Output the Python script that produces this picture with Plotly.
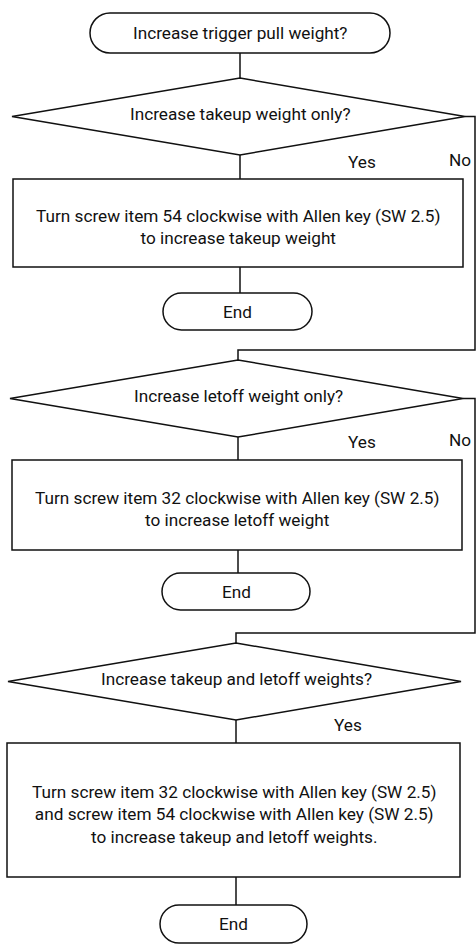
import plotly.graph_objects as go

W, H = 476, 946

# ---- content ----
start_label = "Increase trigger pull weight?"
decision_labels = [
    "Increase takeup weight only?",
    "Increase letoff weight only?",
    "Increase takeup and letoff weights?",
]
action_labels = [
    "Turn screw item 54 clockwise with Allen key (SW 2.5)<br>to increase takeup weight",
    "Turn screw item 32 clockwise with Allen key (SW 2.5)<br>to increase letoff weight",
    "Turn screw item 32 clockwise with Allen key (SW 2.5)<br>and screw item 54 clockwise with Allen key (SW 2.5)<br>to increase takeup and letoff weights.",
]
end_label = "End"
yes_label = "Yes"
no_label = "No"

# ---- geometry (pixels, y down) ----
start_box = (90, 390, 13, 53)
diamonds = [  # cx, top, bottom, left, right
    (240, 78, 155, 12, 465),
    (238, 360, 437, 10, 463),
    (236, 643, 720, 8, 461),
]
boxes = [(13, 463, 179, 267), (12, 462, 460, 550), (7, 460, 743, 877)]
ends = [(163, 312, 293, 330), (162, 310, 573, 610), (160, 307, 905, 943)]
yes_pos = [(362, 162), (362, 442), (348, 725)]
no_pos = [(473, 160), (473, 440)]
right_x = 475
merge_y = [350, 633]

LINE = dict(color="#111111", width=1.5)
FONT = "Roboto, Liberation Sans, sans-serif"
FS = 17.2

shapes = []
annotations = []


def stadium(x0, x1, y0, y1):
    r = (y1 - y0) / 2
    ym = (y0 + y1) / 2
    k = 0.5523 * r
    p = (f"M {x0 + r},{y0} L {x1 - r},{y0} "
         f"C {x1 - r + k},{y0} {x1},{ym - k} {x1},{ym} "
         f"C {x1},{ym + k} {x1 - r + k},{y1} {x1 - r},{y1} "
         f"L {x0 + r},{y1} "
         f"C {x0 + r - k},{y1} {x0},{ym + k} {x0},{ym} "
         f"C {x0},{ym - k} {x0 + r - k},{y0} {x0 + r},{y0} Z")
    shapes.append(dict(type="path", path=p, line=LINE, fillcolor="white"))


def seg(points):
    p = "M " + " L ".join(f"{x},{y}" for x, y in points)
    shapes.append(dict(type="path", path=p, line=LINE))


def text(x, y, s, size=FS, xanchor="center"):
    annotations.append(dict(x=x, y=y, text=s, showarrow=False, xanchor=xanchor,
                            yanchor="middle", align="center",
                            font=dict(family=FONT, size=size, color="#111111")))


# connectors
seg([(240, start_box[3]), (240, diamonds[0][1])])
for i, (cx, top, bot, left, right) in enumerate(diamonds):
    bx0, bx1, by0, by1 = boxes[i]
    seg([(cx, bot), (cx, by0)])
    seg([(cx, by1), (cx, ends[i][2])])
for i in range(2):
    cx, top, bot, left, right = diamonds[i]
    ym = (top + bot) / 2
    ncx = diamonds[i + 1][0]
    seg([(right, ym), (right_x, ym), (right_x, merge_y[i]), (ncx, merge_y[i]), (ncx, diamonds[i + 1][1])])

# nodes
stadium(*start_box)
text(240, (start_box[2] + start_box[3]) / 2, start_label)

for i, (cx, top, bot, left, right) in enumerate(diamonds):
    ym = (top + bot) / 2
    shapes.append(dict(type="path",
                       path=f"M {cx},{top} L {right},{ym} L {cx},{bot} L {left},{ym} Z",
                       line=LINE, fillcolor="white"))
    text(cx, ym - 3, decision_labels[i])
    text(yes_pos[i][0], yes_pos[i][1], yes_label)

for i, (x0, x1, y0, y1) in enumerate(boxes):
    shapes.append(dict(type="rect", x0=x0, x1=x1, y0=y0, y1=y1, line=LINE, fillcolor="white"))
    text((x0 + x1) / 2, (y0 + y1) / 2 + 4, action_labels[i])

for (x0, x1, y0, y1) in ends:
    stadium(x0, x1, y0, y1)
    text((x0 + x1) / 2, (y0 + y1) / 2, end_label)

for (x, y) in no_pos:
    text(x, y, no_label, xanchor="right")

fig = go.Figure()
fig.update_layout(
    width=W, height=H,
    margin=dict(l=0, r=0, t=0, b=0),
    paper_bgcolor="white", plot_bgcolor="white",
    xaxis=dict(range=[0, W], visible=False, fixedrange=True),
    yaxis=dict(range=[H, 0], visible=False, fixedrange=True),
    shapes=shapes, annotations=annotations, showlegend=False,
)
fig.write_html("out.html", config={"displayModeBar": False},
               post_script="document.body.style.margin='0';document.body.style.overflow='hidden';")
